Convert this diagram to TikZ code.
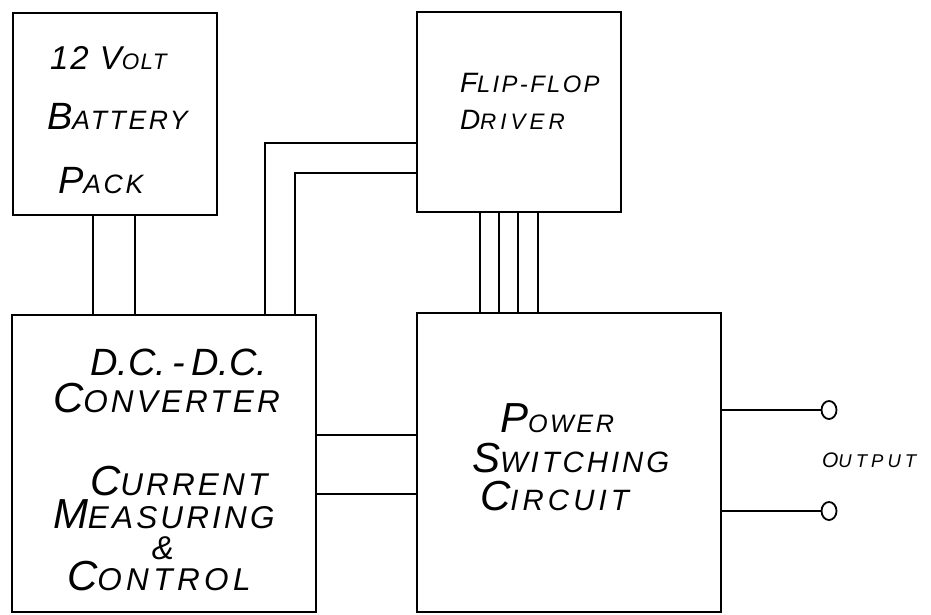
\documentclass[tikz,border=0pt]{standalone}
\usepackage{fontspec}
\usepackage{graphicx}
\setmainfont{Liberation Sans}[LetterSpace=10]
\usetikzlibrary{shapes.geometric}
\newcommand\smc[2][0.7]{\scalebox{#1}{#2}}
\tikzset{
  blk/.style={draw, line width=2.4pt, inner sep=0pt, outer sep=0pt},
  wire/.style={line width=1.8pt},
  lbl/.style={anchor=base west, inner sep=0pt, outer sep=0pt},
  fA/.style={font=\fontsize{38}{40}\selectfont\itshape},
  fB/.style={font=\fontsize{42}{44}\selectfont\itshape},
  fC/.style={font=\fontsize{28}{30}\selectfont\itshape},
  term/.style={draw, ellipse, line width=1.8pt, minimum width=15pt, minimum height=18pt, inner sep=0pt}
}
\begin{document}
\begin{tikzpicture}[x=1pt,y=-1pt]
\useasboundingbox (0,0) rectangle (931,615);
% blocks
\node[blk, minimum width=204pt, minimum height=202pt] (bat) at (115,114) {};
\node[blk, minimum width=204pt, minimum height=200pt] (ff) at (519,112) {};
\node[blk, minimum width=304pt, minimum height=297pt] (dc) at (164,463.5) {};
\node[blk, minimum width=304pt, minimum height=299pt] (pw) at (569,462.5) {};
% labels
\node[lbl, font=\fontsize{33}{35}\selectfont\itshape] (t1) at (50,70) {\addfontfeature{LetterSpace=6}12 V\smc[0.68]{OLT}};
\node[lbl, fA] (t2) at (47,130) {B\smc{ATTERY}};
\node[lbl, fA] (t3) at (58,193) {P\smc{ACK}};
\node[lbl, fC] (t4) at (460,93) {F\smc[0.85]{LIP-FLOP}};
\node[lbl, fC] (t5) at (460,130) {\addfontfeature{LetterSpace=18}D\smc[0.8]{RIVER}};
\node[lbl, font=\fontsize{38}{40}\selectfont\itshape] (t6) at (90,375) {\addfontfeature{LetterSpace=0}D.C.\,-\,D.C.};
\node[lbl, fB] (t7) at (53,412) {C\smc[0.75]{ONVERTER}};
\node[lbl, fB] (t8) at (90,495) {C\smc[0.75]{URRENT}};
\node[lbl, fB] (t9) at (53,528) {M\smc[0.75]{EASURING}};
\node[anchor=base, inner sep=0pt, font=\fontsize{33}{35}\selectfont\itshape] (t10) at (163,559) {\&};
\node[lbl, fB] (t11) at (67,590) {\addfontfeature{LetterSpace=14}C\smc[0.75]{ONTROL}};
\node[lbl, fB] (t12) at (500,432) {P\smc[0.6]{OWER}};
\node[lbl, fB] (t13) at (472,472) {S\smc{WITCHING}};
\node[lbl, fB] (t14) at (480,510) {\addfontfeature{LetterSpace=14}C\smc{IRCUIT}};
\node[lbl, font=\fontsize{21}{23}\selectfont\itshape] (t15) at (822,467) {\addfontfeature{LetterSpace=22}O\smc[0.88]{UTPUT}};
% output terminals
\node[term] (o1) at (829,410) {};
\node[term] (o2) at (829,511) {};
% routing points
\coordinate (r1) at (265,143);
\coordinate (r2) at (295,173);
% connectors
\draw[wire] ([xshift=-22pt]bat.south) -- ([xshift=-22pt]bat.south |- dc.north);
\draw[wire] ([xshift=20pt]bat.south) -- ([xshift=20pt]bat.south |- dc.north);
\draw[wire] (r1 |- dc.north) -- (r1) -- (r1 -| ff.west);
\draw[wire] (r2 |- dc.north) -- (r2) -- (r2 -| ff.west);
\foreach \dx in {-39,-20,-1,19}
  \draw[wire] ([xshift=\dx pt]ff.south) -- ([xshift=\dx pt]ff.south |- pw.north);
\draw[wire] ([yshift=28.5pt]dc.east) -- ([yshift=28.5pt]dc.east -| pw.west);
\draw[wire] ([yshift=-30.5pt]dc.east) -- ([yshift=-30.5pt]dc.east -| pw.west);
\draw[wire] ([yshift=52.5pt]pw.east) -- (o1.west);
\draw[wire] ([yshift=-48.5pt]pw.east) -- (o2.west);
\end{tikzpicture}
\end{document}
